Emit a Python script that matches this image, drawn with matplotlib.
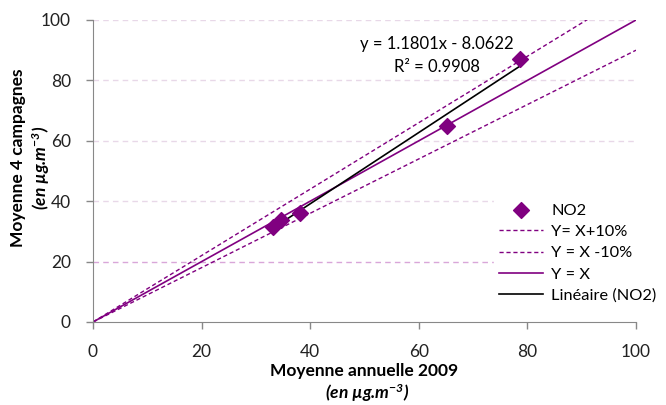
import numpy as np
import matplotlib
matplotlib.use('Agg')
import matplotlib.pyplot as plt

plt.rcParams['font.family'] = ['Lato', 'DejaVu Sans']
plt.rcParams['mathtext.default'] = 'regular'

# data
annual_2009 = [33.1, 34.6, 38.1, 65.2, 78.6]
campaigns_4 = [31.4, 33.8, 36.1, 64.9, 87.1]
ref_x = [0, 100]
slope, intercept = 1.1801, -8.0622
r2 = 0.9908
ticks = [0, 20, 40, 60, 80, 100]

purple = '#800080'

fig = plt.figure(figsize=(6.66, 4.05), dpi=100)
ax = fig.add_axes([93 / 666, 83 / 405, 543 / 666, 302 / 405])

# gridlines
for t in ticks[1:]:
    col = '#d9a6d9' if t == 20 else '#e8d8e8'
    ax.axhline(t, color=col, lw=1, ls=(0, (4, 3)), zorder=0)

xr = np.array(ref_x, dtype=float)
ax.scatter(annual_2009, campaigns_4, marker='D', s=65, color=purple, zorder=5, label='NO2')
ax.plot(xr, 1.1 * xr, color=purple, lw=1, ls=(0, (3, 2)), label='Y= X+10%')
ax.plot(xr, 0.9 * xr, color=purple, lw=1, ls=(0, (3, 2)), label='Y = X -10%')
ax.plot(xr, xr, color=purple, lw=1.2, label='Y = X')
xt = np.array([min(annual_2009), max(annual_2009)])
ax.plot(xt, slope * xt + intercept, color='black', lw=1.2, label='Linéaire (NO2)')

ax.text(0.634, 0.92, 'y = %.4fx - %.4f' % (slope, -intercept), transform=ax.transAxes,
        ha='center', va='center', fontsize=12)
ax.text(0.634, 0.845, 'R² = %.4f' % r2, transform=ax.transAxes,
        ha='center', va='center', fontsize=12)

ax.set_xlim(0, 100)
ax.set_ylim(0, 100)
ax.set_xticks(ticks)
ax.set_yticks(ticks)
ax.tick_params(labelsize=12.5, colors='#222222', length=5, width=1, pad=11)
ax.tick_params(axis='both', color='#888888')
for s in ['top', 'right']:
    ax.spines[s].set_visible(False)
for s in ['left', 'bottom']:
    ax.spines[s].set_color('#888888')

leg = ax.legend(loc='center left', bbox_to_anchor=(0.738, 0.228), frameon=True,
                fontsize=11.8, handlelength=2.7, labelspacing=0.42, borderpad=0.3,
                handletextpad=0.5, borderaxespad=0)
leg.get_frame().set_edgecolor('white')
leg.get_frame().set_facecolor('white')
leg.get_frame().set_alpha(1)

fig.text(364 / 666, 1 - 371 / 405, 'Moyenne annuelle 2009', ha='center', va='center',
         fontsize=12.5, fontweight='bold')
fig.text(367 / 666, 1 - 393 / 405, '(en µg.m$^{-3}$)', ha='center', va='center',
         fontsize=12.5, fontweight='bold', style='italic')
fig.text(18 / 666, 1 - 158 / 405, 'Moyenne 4 campagnes', ha='center', va='center',
         fontsize=12.5, fontweight='bold', rotation=90)
fig.text(41 / 666, 1 - 168 / 405, '(en µg.m$^{-3}$)', ha='center', va='center',
         fontsize=12.5, fontweight='bold', style='italic', rotation=90)

fig.savefig('out.png', dpi=100)
